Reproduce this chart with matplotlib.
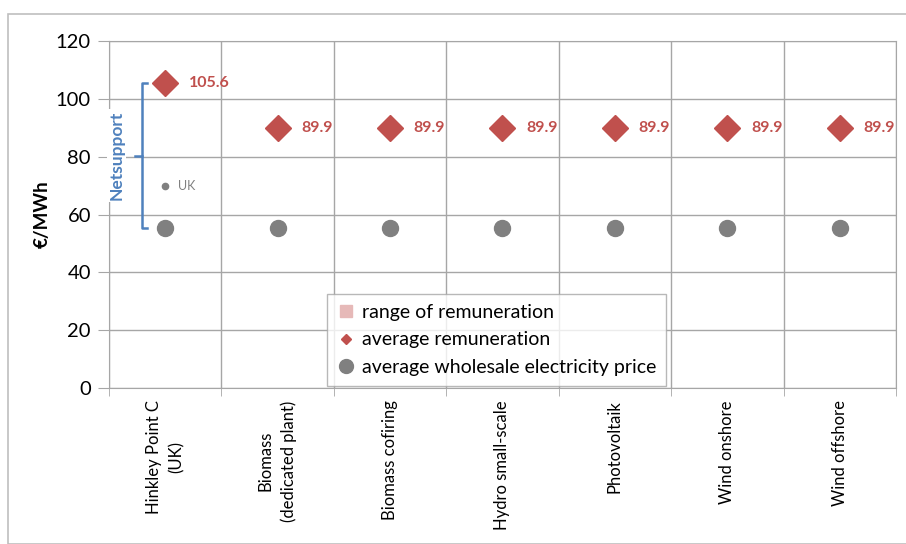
import matplotlib
matplotlib.use("Agg")
import matplotlib.pyplot as plt
from matplotlib.lines import Line2D
from matplotlib.patches import Rectangle

plt.rcParams['font.family'] = ['Lato', 'DejaVu Sans']

categories = ["Hinkley Point C\n(UK)", "Biomass\n(dedicated plant)", "Biomass cofiring",
              "Hydro small-scale", "Photovoltaik", "Wind onshore", "Wind offshore"]
avg_remuneration = [105.6, 89.9, 89.9, 89.9, 89.9, 89.9, 89.9]
wholesale_price = [55.2, 55.2, 55.2, 55.2, 55.2, 55.2, 55.2]
uk_price = 70.0
yticks = [0, 20, 40, 60, 80, 100, 120]

RED = "#C0504D"
GRAY = "#808080"
BLUE = "#4F81BD"
GRID = "#A6A6A6"

fig = plt.figure(figsize=(9.06, 5.44), dpi=100)
fig.patches.append(Rectangle((8/906, 0), 1, 1 - 14/544, transform=fig.transFigure,
                             fill=False, edgecolor="#BFBFBF", lw=1.2, zorder=0))
ax = fig.add_axes([109/906, 1 - 388/544, 787/906, 347/544])

x = list(range(len(categories)))
ax.set_xlim(-0.5, len(categories) - 0.5)
ax.set_ylim(0, 120)
ax.set_yticks(yticks)
ax.set_yticklabels([str(t) for t in yticks], fontsize=14.5)
ax.set_xticks(x)
ax.set_xticklabels(categories, rotation=90, fontsize=12, va='top', ha='center',
                   multialignment='center', linespacing=1.5)
ax.tick_params(axis='x', length=0, pad=9)
ax.tick_params(axis='y', length=8, color=GRID, pad=5)
ax.set_xticks([i + 0.5 for i in range(-1, len(categories))], minor=True)
ax.tick_params(axis='x', which='minor', length=6, color=GRID)
ax.grid(axis='y', which='major', color=GRID, lw=1)
ax.grid(axis='x', which='minor', color=GRID, lw=1)
for s in ax.spines.values():
    s.set_color(GRID)
ax.set_axisbelow(True)

ax.set_ylabel("€/MWh", fontsize=13.5, fontweight='bold', labelpad=4)

ax.plot(x, wholesale_price, 'o', color=GRAY, markersize=11.5, ls='none', zorder=3)
ax.plot(x, avg_remuneration, 'D', color=RED, markersize=13.5, ls='none', zorder=4)
for xi, v in zip(x, avg_remuneration):
    ax.annotate(f"{v:.1f}", (xi, v), xytext=(17, 0), textcoords='offset points',
                va='center', ha='left', color=RED, fontsize=11.5, fontweight='bold')

ax.plot([0], [uk_price], 'o', color=GRAY, markersize=4.5, zorder=3)
ax.annotate("UK", (0, uk_price), xytext=(9, 0), textcoords='offset points',
            va='center', ha='left', color=GRAY, fontsize=9)

# Net support bracket
bx = -0.21
cap = 0.05
ax.plot([bx + cap, bx, bx, bx + cap], [avg_remuneration[0], avg_remuneration[0],
        wholesale_price[0], wholesale_price[0]], color=BLUE, lw=1.8, zorder=5, clip_on=False)
mid = (avg_remuneration[0] + wholesale_price[0]) / 2
ax.plot([bx - 0.06, bx], [mid, mid], color=BLUE, lw=1.8, zorder=5, clip_on=False)
ax.text(-0.43, mid, "Netsupport", rotation=90, va='center', ha='center', color=BLUE,
        fontsize=12.5, fontweight='bold', zorder=6,
        bbox=dict(facecolor='white', edgecolor='none', pad=1))

handles = [
    Line2D([], [], marker='s', color='#E6B9B8', markersize=9, ls='none'),
    Line2D([], [], marker='D', color=RED, markersize=5.5, ls='none'),
    Line2D([], [], marker='o', color=GRAY, markersize=10, ls='none'),
]
labels = ["range of remuneration", "average remuneration", "average wholesale electricity price"]
leg = ax.legend(handles, labels, loc='upper left', bbox_to_anchor=(327/906, 1 - 294/544),
                bbox_transform=fig.transFigure, fontsize=14, frameon=True, fancybox=False,
                edgecolor=GRID, handletextpad=0.3, handlelength=1.0, borderpad=0.5,
                labelspacing=0.55, borderaxespad=0)
leg.get_frame().set_linewidth(1)

fig.savefig("out.png", dpi=100)
